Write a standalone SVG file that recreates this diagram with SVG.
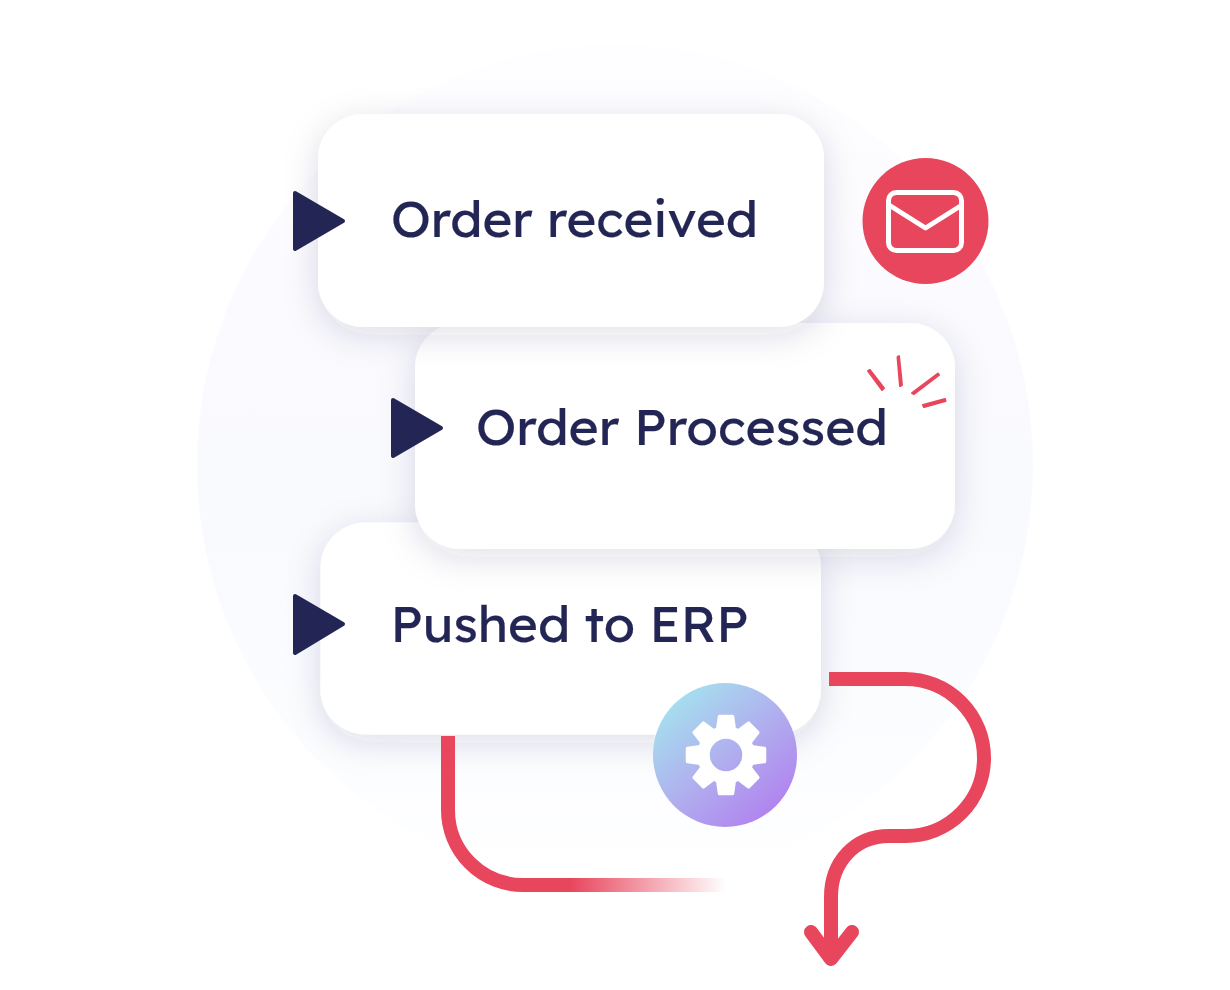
<svg xmlns="http://www.w3.org/2000/svg" xmlns:xlink="http://www.w3.org/1999/xlink" width="1230" height="990" viewBox="0 0 1230 990">
<style>
.card{fill:#fff;filter:url(#sh)}
.tri{fill:#232654;stroke:#232654;stroke-width:4;stroke-linejoin:round}
.lbl{font-family:"Lexend","Lato","Liberation Sans",sans-serif;font-size:51px;fill:#232654;stroke:#232654;stroke-width:.2}
.red{fill:none;stroke:#e8465d;stroke-width:14}
.spark{fill:#e8465d;stroke:#e8465d;stroke-width:2;stroke-linejoin:round}
</style>
<defs>
<linearGradient id="bg" x1="0" y1="0" x2="0" y2="1">
<stop offset="0" stop-color="#fefdff"/><stop offset=".3" stop-color="#fbfafe"/><stop offset=".6" stop-color="#f9fafe"/><stop offset=".85" stop-color="#fcfdff"/><stop offset="1" stop-color="#fff"/>
</linearGradient>
<linearGradient id="gear" x1=".15" y1=".1" x2=".85" y2=".9">
<stop offset="0" stop-color="#a5e0ef"/><stop offset=".5" stop-color="#b0b0ee"/><stop offset="1" stop-color="#b182ef"/>
</linearGradient>
<linearGradient id="fade" gradientUnits="userSpaceOnUse" x1="570" y1="0" x2="726" y2="0">
<stop offset="0" stop-color="#e8465d"/><stop offset="1" stop-color="#e8465d" stop-opacity="0"/>
</linearGradient>
<filter id="sh" x="-20%" y="-25%" width="140%" height="160%">
<feDropShadow dx="0" dy="8" stdDeviation="17" flood-color="#232654" flood-opacity=".14"/>
</filter>
<path id="tooth" d="M-6.5,-38.5 H6.5 L8.5,-24 H-8.5 Z" fill="#fff" stroke="#fff" stroke-width="3.5" stroke-linejoin="round"/>
</defs>
<ellipse id="backdrop" cx="615" cy="465" rx="418" ry="420" fill="url(#bg)"/>
<g id="card-erp"><rect class="card" x="320.5" y="522.5" width="500.5" height="212" rx="45"/></g>
<g id="card-processed"><rect class="card" x="415" y="323" width="540" height="226" rx="45"/></g>
<g id="card-received"><rect class="card" x="318" y="114" width="506" height="213" rx="45"/></g>
<g id="node-received">
<path class="tri" d="M295,193 L343,221 L295,249 Z"/>
<text class="lbl" x="391" y="237" textLength="367" lengthAdjust="spacingAndGlyphs">Order received</text>
</g>
<g id="node-processed">
<path class="tri" d="M393,400 L441,428 L393,456 Z"/>
<text class="lbl" x="476" y="445" textLength="412" lengthAdjust="spacingAndGlyphs">Order Processed</text>
<path class="spark" d="M868,371 L870,370 L884,388 L882,390 Z"/>
<path class="spark" d="M897.500,357 L899,356 L902,385 L900,386 Z"/>
<path class="spark" d="M938,373.500 L939,375 L914,394 L912,393 Z"/>
<path class="spark" d="M945,399 L945.500,401 L924,407 L923,405 Z"/>
</g>
<g id="node-erp">
<path class="tri" d="M295,596 L343,624 L295,653 Z"/>
<text class="lbl" x="390.500" y="642" textLength="358" lengthAdjust="spacingAndGlyphs">Pushed to ERP</text>
</g>
<g id="connectors">
<path class="red" d="M829,679 H905 A79,79 0 0 1 984,758 A78,78 0 0 1 906,836 H889 C855,836 831,862 831,897 V958"/>
<path d="M811,932 L831,959 L852,932" fill="none" stroke="#e8465d" stroke-width="14" stroke-linecap="round" stroke-linejoin="round"/>
<path class="red" style="stroke:url(#fade)" d="M448,736 V810 A75,75 0 0 0 523,885 H726"/>
</g>
<g id="node-mail">
<circle cx="925.500" cy="221" r="63" fill="#e8465d"/>
<rect x="888.500" y="192.500" width="73" height="58" rx="8" fill="none" stroke="#fff" stroke-width="5"/>
<path d="M889,205 L925.500,228 L962,205" fill="none" stroke="#fff" stroke-width="5" stroke-linejoin="round"/>
</g>
<g id="node-gear">
<circle cx="725" cy="755" r="72" fill="url(#gear)"/>
<g transform="translate(726,755)">
<circle r="22.500" fill="none" stroke="#fff" stroke-width="12.500"/>
<use xlink:href="#tooth"/>
<use xlink:href="#tooth" transform="rotate(45)"/>
<use xlink:href="#tooth" transform="rotate(90)"/>
<use xlink:href="#tooth" transform="rotate(135)"/>
<use xlink:href="#tooth" transform="rotate(180)"/>
<use xlink:href="#tooth" transform="rotate(225)"/>
<use xlink:href="#tooth" transform="rotate(270)"/>
<use xlink:href="#tooth" transform="rotate(315)"/>
</g>
</g>
</svg>
